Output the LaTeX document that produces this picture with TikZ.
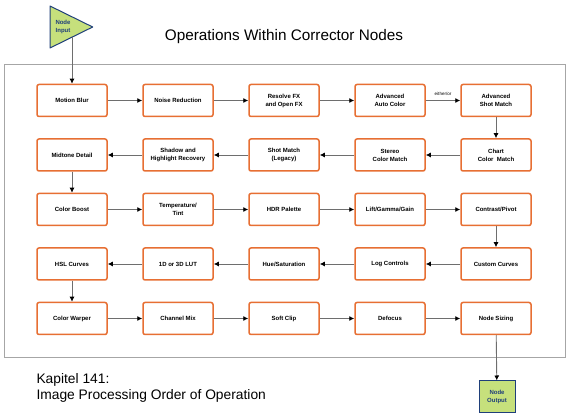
\documentclass[tikz,border=0pt]{standalone}
\usepackage{fontspec}
\setmainfont{Liberation Sans}
\usepackage{xcolor}
\usetikzlibrary{positioning,arrows.meta}

\definecolor{oporange}{RGB}{231,111,51}
\definecolor{nodegreen}{RGB}{198,224,124}
\definecolor{nodenavy}{RGB}{31,63,122}
\definecolor{flowgray}{RGB}{110,110,110}

\tikzset{
  opbox/.style={draw=oporange, line width=1.5pt, rounded corners=2pt, fill=white,
    minimum width=70pt, minimum height=32pt, align=center,
    font=\bfseries\fontsize{6}{8}\selectfont},
  flow/.style={draw=flowgray, line width=0.9pt, -{Latex[black,length=5pt,width=5pt]}},
  iolabel/.style={text=nodenavy, align=center, font=\bfseries\fontsize{6}{7.5}\selectfont}
}

\begin{document}
\begin{tikzpicture}[x=1pt, y=1pt, node distance=21pt and 34.5pt]
  \useasboundingbox (0,0) rectangle (571,418);

  % frame and title
  \draw[gray!70, line width=0.8pt] (4,61) rectangle (565,354);
  \node[font=\fontsize{15.3}{18}\selectfont] (title) at (284,381) {Operations Within Corrector Nodes};

  % node input
  \draw[nodenavy, fill=nodegreen, line width=1pt, line join=round] (50,412) -- (92.7,391) -- (50,370) -- cycle;
  \node[iolabel] (input) at (63,391) {Node\\Input};
  \coordinate (inputtip) at (72,380.8);

  % row 1
  \node[opbox] (motion) at (72,317.5) {Motion Blur};
  \node[opbox, right=of motion] (noise) {Noise Reduction};
  \node[opbox, right=of noise] (resolve) {Resolve FX\\and Open FX};
  \node[opbox, right=of resolve] (advauto) {Advanced\\Auto Color};
  \node[opbox, right=of advauto] (advshot) {Advanced\\Shot Match};

  % row 2
  \node[opbox, below=of advshot] (chart) {Chart\\Color\ \ Match};
  \node[opbox, left=of chart] (stereo) {Stereo\\Color Match};
  \node[opbox, left=of stereo] (shotmatch) {Shot Match\\(Legacy)};
  \node[opbox, left=of shotmatch] (shadow) {Shadow and\\Highlight Recovery};
  \node[opbox, left=of shadow] (midtone) {Midtone Detail};

  % row 3
  \node[opbox, below=of midtone] (boost) {Color Boost};
  \node[opbox, right=of boost] (temp) {Temperature/\\Tint};
  \node[opbox, right=of temp] (hdr) {HDR Palette};
  \node[opbox, right=of hdr] (lgg) {Lift/Gamma/Gain};
  \node[opbox, right=of lgg] (contrast) {Contrast/Pivot};

  % row 4
  \node[opbox, below=of contrast] (custom) {Custom Curves};
  \node[opbox, left=of custom] (logctl) {Log Controls};
  \node[opbox, left=of logctl] (huesat) {Hue/Saturation};
  \node[opbox, left=of huesat] (lut) {1D or 3D LUT};
  \node[opbox, left=of lut] (hsl) {HSL Curves};

  % row 5
  \node[opbox, below=of hsl] (warper) {Color Warper};
  \node[opbox, right=of warper] (chmix) {Channel Mix};
  \node[opbox, right=of chmix] (softclip) {Soft Clip};
  \node[opbox, right=of softclip] (defocus) {Defocus};
  \node[opbox, right=of defocus] (sizing) {Node Sizing};

  % node output
  \node[draw=nodenavy, fill=nodegreen, line width=1pt, minimum width=36pt, minimum height=32pt,
    iolabel] (output) at (497,21) {Node\\Output};

  % connectors
  \draw[flow] (inputtip) -- (motion);
  \draw[flow] (motion) -- (noise);
  \draw[flow] (noise) -- (resolve);
  \draw[flow] (resolve) -- (advauto);
  \draw[flow] (advauto) -- node[above, font=\fontsize{4.5}{5}\selectfont, yshift=1pt] {either/or} (advshot);
  \draw[flow] (advshot) -- (chart);
  \draw[flow] (chart) -- (stereo);
  \draw[flow] (stereo) -- (shotmatch);
  \draw[flow] (shotmatch) -- (shadow);
  \draw[flow] (shadow) -- (midtone);
  \draw[flow] (midtone) -- (boost);
  \draw[flow] (boost) -- (temp);
  \draw[flow] (temp) -- (hdr);
  \draw[flow] (hdr) -- (lgg);
  \draw[flow] (lgg) -- (contrast);
  \draw[flow] (contrast) -- (custom);
  \draw[flow] (custom) -- (logctl);
  \draw[flow] (logctl) -- (huesat);
  \draw[flow] (huesat) -- (lut);
  \draw[flow] (lut) -- (hsl);
  \draw[flow] (hsl) -- (warper);
  \draw[flow] (warper) -- (chmix);
  \draw[flow] (chmix) -- (softclip);
  \draw[flow] (softclip) -- (defocus);
  \draw[flow] (defocus) -- (sizing);
  \draw[flow] (sizing) -- (output);

  % caption
  \node[anchor=north west, align=left, font=\fontsize{13.8}{16}\selectfont] (caption) at (33,48) {Kapitel 141:\\Image Processing Order of Operation};
\end{tikzpicture}
\end{document}
